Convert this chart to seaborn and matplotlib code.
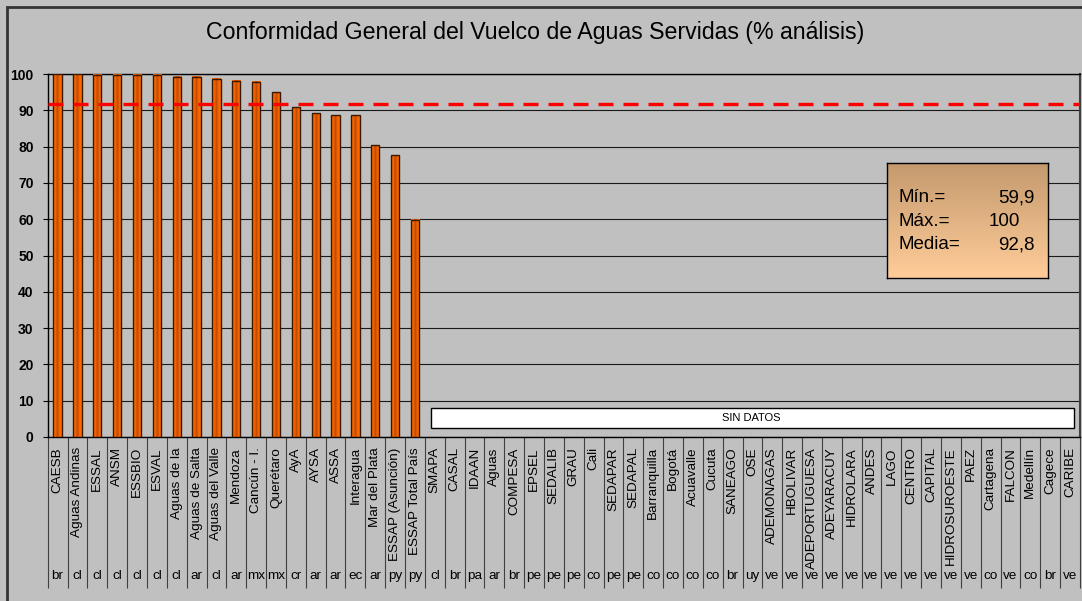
import numpy as np
import pandas as pd
import matplotlib
matplotlib.use("Agg")
import matplotlib.pyplot as plt
import seaborn as sns
from matplotlib import transforms
from matplotlib.colors import LinearSegmentedColormap
from matplotlib.patches import Rectangle

# ---------------- data ----------------
title = "Conformidad General del Vuelco de Aguas Servidas (% análisis)"
utilities = ["CAESB", "Aguas Andinas", "ESSAL", "ANSM", "ESSBIO", "ESVAL", "Aguas de la",
             "Aguas de Salta", "Aguas del Valle", "Mendoza", "Cancún - I.", "Querétaro", "AyA",
             "AYSA", "ASSA", "Interagua", "Mar del Plata", "ESSAP (Asunción)", "ESSAP Total País",
             "SMAPA", "CASAL", "IDAAN", "Aguas", "COMPESA", "EPSEL", "SEDALIB", "GRAU", "Cali",
             "SEDAPAR", "SEDAPAL", "Barranquilla", "Bogotá", "Acuavalle", "Cucuta", "SANEAGO",
             "OSE", "ADEMONAGAS", "HBOLIVAR", "ADEPORTUGUESA", "ADEYARACUY", "HIDROLARA", "ANDES",
             "LAGO", "CENTRO", "CAPITAL", "HIDROSUROESTE", "PAEZ", "Cartagena", "FALCON",
             "Medellín", "Cagece", "CARIBE"]
countries = ["br", "cl", "cl", "cl", "cl", "cl", "cl", "ar", "cl", "ar", "mx", "mx", "cr",
             "ar", "ar", "ec", "ar", "py", "py", "cl", "br", "pa", "ar", "br", "pe", "pe", "pe",
             "co", "pe", "pe", "co", "co", "co", "co", "br", "uy", "ve", "ve", "ve", "ve", "ve",
             "ve", "ve", "ve", "ve", "ve", "ve", "co", "ve", "co", "br", "ve"]
conformity = [100, 100, 99.8, 99.8, 99.8, 99.8, 99.3, 99.3, 98.7, 98.2, 97.9, 95.0, 90.9,
              89.2, 88.6, 88.6, 80.4, 77.6, 59.9]
mean_line_value = 91.7
stats_labels = ["Mín.=", "Máx.=", "Media="]
stats_values = ["59,9", "100", "92,8"]
no_data_label = "SIN DATOS"
y_ticks = list(range(0, 101, 10))

values = conformity + [np.nan] * (len(utilities) - len(conformity))
df = pd.DataFrame({"utility": utilities, "value": values})

# ---------------- style ----------------
sns.set_theme(style="white")
plt.rcParams['font.family'] = ['Liberation Sans', 'DejaVu Sans']
plt.rcParams['lines.scale_dashes'] = False

W, H = 1082, 601
BG = '#C0C0C0'
fig = plt.figure(figsize=(W / 100, H / 100), dpi=100)
fig.patch.set_facecolor(BG)

x0, x1, ytop, ybot = 47.7, 1080, 74, 437
ax = fig.add_axes([x0 / W, 1 - ybot / H, (x1 - x0) / W, (ybot - ytop) / H])
ax.set_facecolor(BG)

sns.barplot(data=df, x="utility", y="value", order=utilities, width=0.42,
            errorbar=None, ax=ax, color='#FF6600', edgecolor='#3A1800',
            linewidth=1.0, zorder=3)

# cylinder-like shading on the bars
cmap = LinearSegmentedColormap.from_list("cyl", ['#B44800', '#F06000', '#FF6A00', '#FF6A00'])
grad = np.abs(np.linspace(-1, 1, 64))[None, :]
for p in list(ax.patches):
    h = p.get_height()
    if not np.isfinite(h) or h <= 0:
        continue
    bx, bw = p.get_x(), p.get_width()
    ax.imshow(grad, extent=[bx, bx + bw, 0, h], aspect='auto', cmap=cmap,
              interpolation='bicubic', zorder=2.9)
    p.set_facecolor('none')

ax.set_xlim(-0.5, len(utilities) - 0.5)
ax.set_ylim(0, 100)
ax.set_xlabel("")
ax.set_ylabel("")

# y axis
ax.set_yticks(y_ticks)
ax.set_yticklabels([str(t) for t in y_ticks])
ax.yaxis.grid(True, color='#1a1a1a', lw=0.8)
ax.set_axisbelow(True)
ax.tick_params(axis='y', length=3.6, width=0.8, color='black', pad=6.5,
               labelsize=10, left=True)
for lbl in ax.get_yticklabels():
    lbl.set_fontweight('bold')
    lbl.set_color('black')

# x axis: separators between categories
ax.set_xticks(np.arange(len(utilities) + 1) - 0.5)
ax.set_xticklabels([])
ax.tick_params(axis='x', length=108.5, width=0.8, color='#404040', direction='out',
               bottom=True)

for s in ax.spines.values():
    s.set_visible(True)
    s.set_color('black')
    s.set_linewidth(1.0)
ax.spines['right'].set_color('#404040')
ax.spines['right'].set_linewidth(1.5)

trans = transforms.blended_transform_factory(ax.transData, ax.transAxes)
for i, (u, c) in enumerate(zip(utilities, countries)):
    ax.text(i, -0.028, u, rotation=90, ha='center', va='top', fontsize=9.7,
            color='black', transform=trans, clip_on=False)
    ax.text(i, -0.383, c, ha='center', va='center', fontsize=9.7,
            color='black', transform=trans, clip_on=False)

# mean line
ax.axhline(mean_line_value, color='#FF0000', lw=2.4, linestyle=(0, (10.8, 7.2)), zorder=4)

# "SIN DATOS" box
trans2 = transforms.blended_transform_factory(ax.transAxes, ax.transData)
ax.add_patch(Rectangle((0.3713, 2.4), 0.6229, 5.5, transform=trans2,
                       facecolor='white', edgecolor='black', lw=1, zorder=4))
ax.text(0.682, 5.15, no_data_label, transform=trans2, ha='center', va='center',
        fontsize=8, color='black', zorder=5)

# statistics box
bx0, bx1, by0, by1 = 886.7, 1048, 163.3, 278.3
sax = fig.add_axes([bx0 / W, 1 - by1 / H, (bx1 - bx0) / W, (by1 - by0) / H])
vgrad = np.linspace(0, 1, 64)[:, None]
scmap = LinearSegmentedColormap.from_list("box", ['#C49A6E', '#FFCC99'])
sax.imshow(vgrad, extent=[0, 1, 0, 1], aspect='auto', cmap=scmap, interpolation='bicubic')
sax.set_xticks([])
sax.set_yticks([])
for s in sax.spines.values():
    s.set_visible(True)
    s.set_color('black')
    s.set_linewidth(1.0)

rows_y = [197.7, 221.5, 244.8]
vals_x = [1034.3, 1019.5, 1034.3]
for lab, val, yy, vx in zip(stats_labels, stats_values, rows_y, vals_x):
    fig.text(898 / W, 1 - yy / H, lab, ha='left', va='center', fontsize=13.5, color='black')
    fig.text(vx / W, 1 - yy / H, val, ha='right', va='center', fontsize=13.5, color='black')

# title
fig.text(535 / W, 1 - 33 / H, title, ha='center', va='center', fontsize=16.7, color='black')

# outer frame
fig.add_artist(Rectangle((7 / W, -0.1), 1.2, 1 - 7 / H + 0.1, transform=fig.transFigure,
                         fill=False, edgecolor='#333333', lw=2))

fig.savefig('out.png', dpi=100, facecolor=fig.get_facecolor())
